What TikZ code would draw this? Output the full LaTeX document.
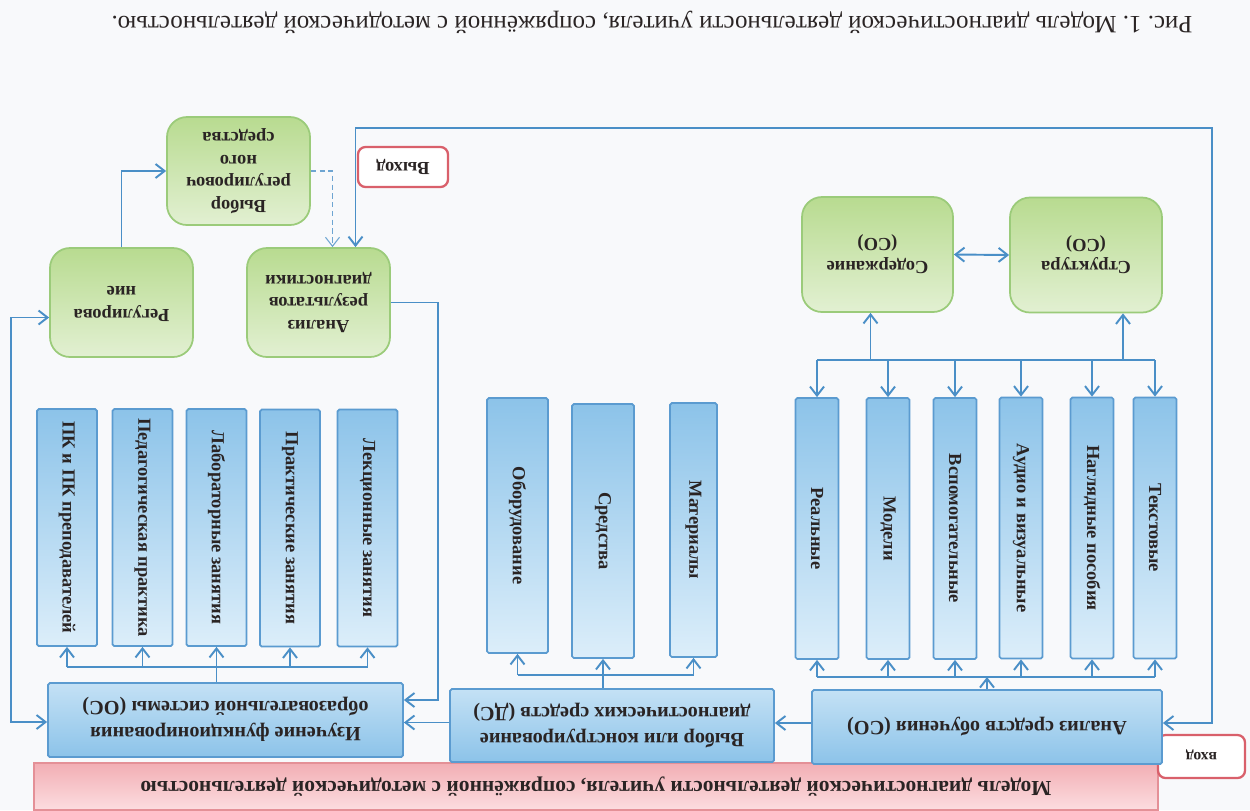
\documentclass[tikz,border=0pt]{standalone}
\usepackage{fontspec}
\setmainfont{Liberation Serif}
\usepackage{graphicx}
\usetikzlibrary{arrows.meta,calc}
\frenchspacing
\definecolor{paper}{HTML}{F8F9FB}
\definecolor{conn}{HTML}{4A8FC7}
\definecolor{bluedge}{HTML}{5B9BD0}
\definecolor{bluedark}{HTML}{8CC3E9}
\definecolor{bluelight}{HTML}{DCEEFA}
\definecolor{greenedge}{HTML}{9BCB7A}
\definecolor{greendark}{HTML}{B8DB90}
\definecolor{greenlight}{HTML}{E2F0D2}
\definecolor{rededge}{HTML}{D9606B}
\definecolor{pinkdark}{HTML}{F2AEB4}
\definecolor{pinklight}{HTML}{FCDDE0}
\definecolor{ink}{HTML}{2A2424}
\newcommand\flipt[1]{\rotatebox[origin=c]{180}{\begin{tabular}{@{}c@{}}#1\end{tabular}}}
\newcommand\vertext[1]{\rotatebox[origin=c]{-90}{#1}}
\tikzset{
  vbox/.style={rectangle, rounded corners=1pt, draw=bluedge, line width=1pt,
    top color=bluedark, bottom color=bluelight, inner sep=0pt,
    font=\fontsize{10.5}{12}\selectfont\bfseries, text=ink},
  wbox/.style={rectangle, rounded corners=1pt, draw=bluedge, line width=1pt,
    top color=bluelight!70!bluedark, bottom color=bluedark, inner sep=0pt,
    font=\fontsize{11.5}{15}\selectfont\bfseries, text=ink},
  gbox/.style={rectangle, rounded corners=4mm, draw=greenedge, line width=1pt,
    top color=greendark, bottom color=greenlight, inner sep=0pt,
    font=\fontsize{10.5}{13}\selectfont\bfseries, text=ink},
  rbox/.style={rectangle, rounded corners=1.5mm, draw=rededge, line width=1.3pt,
    fill=white, inner sep=0pt, text=ink},
  banner/.style={rectangle, draw=rededge!70, line width=1pt,
    top color=pinkdark, bottom color=pinklight, inner sep=0pt,
    font=\fontsize{12.2}{15}\selectfont\bfseries, text=ink},
  capt/.style={font=\fontsize{14.2}{17}\selectfont, text=ink},
  bus/.style={line width=1.1pt, draw=conn},
  arr/.style={bus, -{Straight Barb[length=1.8mm,width=2.8mm]}},
  arrtwo/.style={bus, {Straight Barb[length=1.8mm,width=2.8mm]}-{Straight Barb[length=1.8mm,width=2.8mm]}},
  arrthin/.style={line width=0.6pt, draw=conn!80, densely dashed,
    -{Straight Barb[length=1.8mm,width=2.8mm]}},
}
\begin{document}
\begin{tikzpicture}[x=0.2mm, y=-0.2mm]
  \fill[paper] (0,0) rectangle (1250,810);
  \useasboundingbox (0,0) rectangle (1250,810);

  % caption and banner (the whole figure is upside down)
  \node[capt] (cap) at (652,22) {\flipt{Рис. 1. Модель диагностической деятельности учителя, сопряжённой с методической деятельностью.}};
  \node[banner, minimum width=224.8mm, minimum height=9.4mm] (ban) at (596,786.5)
    {\flipt{Модель диагностической деятельности учителя, сопряжённой с методической деятельностью}};
  \node[rbox, minimum width=17.4mm, minimum height=8.6mm, font=\fontsize{9}{11}\selectfont\bfseries] (inp) at (1201.5,756.5) {\flipt{вход}};
  \node[rbox, minimum width=18mm, minimum height=8mm, font=\fontsize{10.5}{12}\selectfont\bfseries] (out) at (403,167) {\flipt{Выход}};

  % main row
  \node[wbox, minimum width=70mm, minimum height=14.8mm] (aso) at (987,727) {\flipt{Анализ средств обучения (СО)}};
  \node[wbox, minimum width=64.8mm, minimum height=14.6mm] (dsc) at (612,725.5) {\flipt{Выбор или конструирование\\диагностических средств (ДС)}};
  \node[wbox, minimum width=71mm, minimum height=14.8mm] (izu) at (225.5,720) {\flipt{Изучение функционирования\\образовательной системы (ОС)}};

  % kinds of teaching means
  \node[vbox, minimum width=8.6mm, minimum height=52.2mm] (real) at (817,528.5) {\vertext{Реальные}};
  \node[vbox, minimum width=8.6mm, minimum height=52.2mm] (model) at (888,528.5) {\vertext{Модели}};
  \node[vbox, minimum width=8.6mm, minimum height=52.2mm] (aux) at (955,528.5) {\vertext{Вспомогательные}};
  \node[vbox, minimum width=8.6mm, minimum height=52.2mm] (audio) at (1021,528) {\vertext{Аудио и визуальные}};
  \node[vbox, minimum width=8.6mm, minimum height=52.2mm] (visual) at (1092,528) {\vertext{Наглядные пособия}};
  \node[vbox, minimum width=8.6mm, minimum height=52.2mm] (textual) at (1155,528) {\vertext{Текстовые}};

  % diagnostic means
  \node[vbox, minimum width=12.2mm, minimum height=51mm] (equip) at (517.5,525.5) {\vertext{Оборудование}};
  \node[vbox, minimum width=12.4mm, minimum height=50.8mm] (sred) at (603,531) {\vertext{Средства}};
  \node[vbox, minimum width=9.4mm, minimum height=50.8mm] (mater) at (693.5,530) {\vertext{Материалы}};

  % parts of the educational system
  \node[vbox, minimum width=12mm, minimum height=47.4mm] (pk) at (67,527.5) {\vertext{ПК и ПК преподавателей}};
  \node[vbox, minimum width=12mm, minimum height=47.4mm] (ped) at (142.5,527.5) {\vertext{Педагогическая практика}};
  \node[vbox, minimum width=12mm, minimum height=47.4mm] (lab) at (216.5,527.5) {\vertext{Лабораторные занятия}};
  \node[vbox, minimum width=12mm, minimum height=47.4mm] (prak) at (290,528) {\vertext{Практические занятия}};
  \node[vbox, minimum width=12mm, minimum height=47.4mm] (lek) at (367.5,528) {\vertext{Лекционные занятия}};

  % structure and content
  \node[gbox, minimum width=30.2mm, minimum height=23mm] (sod) at (877.5,254.5) {\flipt{Содержание\\(СО)}};
  \node[gbox, minimum width=30.4mm, minimum height=23mm] (str) at (1086,255) {\flipt{Структура\\(СО)}};

  % regulation loop
  \node[gbox, minimum width=28.6mm, minimum height=21.6mm] (vyb) at (238.5,171) {\flipt{Выбор\\регулировоч\\ного\\средства}};
  \node[gbox, minimum width=28.6mm, minimum height=21.8mm] (reg) at (121.5,302.5) {\flipt{Регулирова\\ние}};
  \node[gbox, minimum width=28.6mm, minimum height=21.8mm] (anr) at (318.5,302.5) {\flipt{Анализ\\результатов\\диагностики}};

  \coordinate (tbus) at (0,360);
  \coordinate (rbus) at (0,677);
  \coordinate (mbus) at (0,675);
  \coordinate (lbus) at (0,667);
  \coordinate (tr) at (1212,128);
  \coordinate (sodin) at ($(sod.south)+(-7,0)$);
  \coordinate (strin) at ($(str.south)+(37,0)$);
  \coordinate (asoout) at ($(aso.west)+(0,-4)$);
  \coordinate (dscout) at ($(dsc.west)+(0,-3)$);
  \coordinate (izuin) at ($(izu.east)+(0,-20)$);
  \coordinate (regin) at ($(reg.west)+(0,15)$);
  \coordinate (izuwest) at ($(izu.west)+(0,2)$);
  \coordinate (anrin) at ($(anr.north)+(14,0)$);
  \coordinate (anrtop) at ($(anr.north)+(37,0)$);
  \coordinate (asoin) at ($(aso.east)+(0,-4)$);

  % upper tree of the right group
  \draw[bus] (real.north |- tbus) -- (textual.north |- tbus);
  \draw[arr] (real.north |- tbus) -- (real.north);
  \draw[arr] (model.north |- tbus) -- (model.north);
  \draw[arr] (aux.north |- tbus) -- (aux.north);
  \draw[arr] (audio.north |- tbus) -- (audio.north);
  \draw[arr] (visual.north |- tbus) -- (visual.north);
  \draw[arr] (textual.north |- tbus) -- (textual.north);
  \draw[arr] (sodin |- tbus) -- (sodin);
  \draw[arr] (strin |- tbus) -- (strin);
  \draw[arrtwo] (sod.east) -- (str.west);

  % lower buses
  \draw[bus] (real.south |- rbus) -- (textual.south |- rbus);
  \draw[arr] (aso.north) -- (aso.north |- rbus);
  \draw[arr] (real.south |- rbus) -- (real.south);
  \draw[arr] (model.south |- rbus) -- (model.south);
  \draw[arr] (aux.south |- rbus) -- (aux.south);
  \draw[arr] (audio.south |- rbus) -- (audio.south);
  \draw[arr] (visual.south |- rbus) -- (visual.south);
  \draw[arr] (textual.south |- rbus) -- (textual.south);

  \draw[bus] (equip.south |- mbus) -- (mater.south |- mbus);
  \draw[bus] (sred.south |- dsc.north) -- (sred.south |- mbus);
  \draw[arr] (equip.south |- mbus) -- (equip.south);
  \draw[arr] (sred.south |- mbus) -- (sred.south);
  \draw[arr] (mater.south |- mbus) -- (mater.south);

  \draw[bus] (pk.south |- lbus) -- (lek.south |- lbus);
  \draw[bus] (lab.south |- izu.north) -- (lab.south |- lbus);
  \draw[arr] (pk.south |- lbus) -- (pk.south);
  \draw[arr] (ped.south |- lbus) -- (ped.south);
  \draw[arr] (lab.south |- lbus) -- (lab.south);
  \draw[arr] (prak.south |- lbus) -- (prak.south);
  \draw[arr] (lek.south |- lbus) -- (lek.south);

  % main flow
  \draw[arr] (asoout) -- (asoout -| dsc.east);
  \draw[arr] (dscout) -- (dscout -| izu.east);
  \draw[arr] (anr.east) -- ++(47,0) |- (izuin);
  \draw[arrtwo] (regin) -- ++(-38,0) |- (izuwest);
  \draw[arr] (reg.north) |- (vyb.west);
  \draw[arrthin] (vyb.east) -| (anrin);
  \draw[arrtwo] (anrtop) |- (tr) |- (asoin);
\end{tikzpicture}
\end{document}
